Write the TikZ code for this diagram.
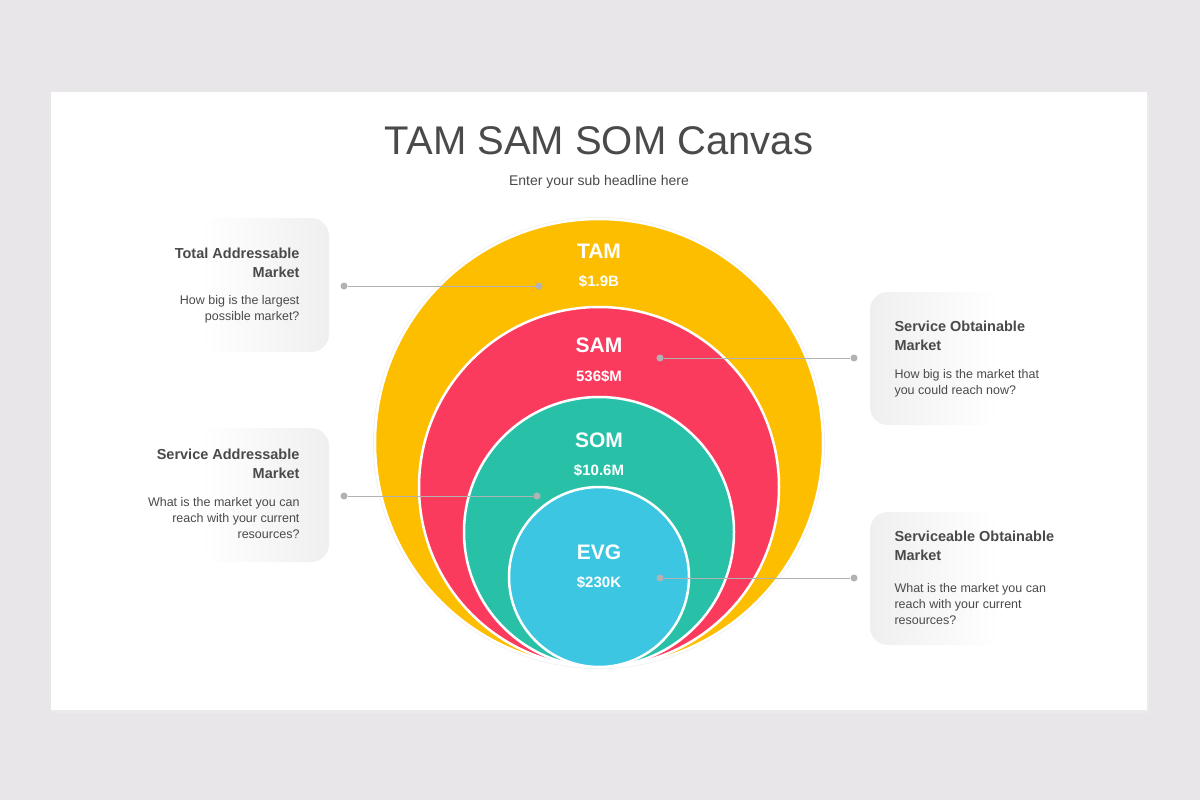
\documentclass[tikz,border=0pt]{standalone}
\usepackage{fontspec}
\setmainfont{Liberation Sans}
\definecolor{bg}{HTML}{E8E6E8}
\definecolor{tamc}{HTML}{FDBE00}
\definecolor{samc}{HTML}{FB3B5E}
\definecolor{somc}{HTML}{28C1A8}
\definecolor{evgc}{HTML}{3CC6E2}
\definecolor{txt}{HTML}{4A4A4A}
\definecolor{boxg}{HTML}{EFEFEF}
\tikzset{
 ring/.style={draw=white,line width=2.5pt},
 lab/.style={text=white,font=\bfseries\fontsize{21}{24}\selectfont},
 val/.style={text=white,font=\bfseries\fontsize{15}{18}\selectfont},
 conn/.style={draw=black!30,line width=1pt},
 dot/.style={circle,fill=black!30,inner sep=0pt,minimum size=7pt},
 headl/.style={text=txt,font=\bfseries\fontsize{14.5}{19}\selectfont,align=right,anchor=north east},
 bodyl/.style={text=txt,font=\fontsize{12.5}{16}\selectfont,align=right,anchor=north east},
 headr/.style={text=txt,font=\bfseries\fontsize{14.5}{19}\selectfont,align=left,anchor=north west},
 bodyr/.style={text=txt,font=\fontsize{12.5}{16}\selectfont,align=left,anchor=north west},
}
\begin{document}
\begin{tikzpicture}[x=1pt,y=-1pt]
\fill[bg] (0,0) rectangle (1200,800);
\useasboundingbox (0,0) rectangle (1200,800);
\fill[black!8] (52,95) rectangle (1149,713);
\fill[white] (51,92) rectangle (1147,710);
\node[text=txt,font=\fontsize{40}{44}\selectfont] (title) at (599,141) {TAM SAM SOM Canvas};
\node[text=txt,font=\fontsize{14}{16}\selectfont] (sub) at (599,182) {Enter your sub headline here};
% boxes
\shade[left color=white,right color=boxg,rounded corners=18pt] (200,218) rectangle (329,352);
\shade[left color=white,right color=boxg,rounded corners=18pt] (200,428) rectangle (329,562);
\shade[right color=white,left color=boxg,rounded corners=18pt] (870,292) rectangle (1000,425);
\shade[right color=white,left color=boxg,rounded corners=18pt] (870,512) rectangle (1000,645);
% circles
\fill[black!6] (599,443) circle (226);
\filldraw[fill=tamc,ring] (599,443) circle (224);
\filldraw[fill=samc,ring] (599,487) circle (180);
\filldraw[fill=somc,ring] (599,532) circle (135);
\filldraw[fill=evgc,ring] (599,577) circle (90);
\node[lab] (tam) at (599,251) {TAM};
\node[val] (tamv) at (599,281) {\$1.9B};
\node[lab] (sam) at (599,345) {SAM};
\node[val] (samv) at (599,376) {536\$M};
\node[lab] (som) at (599,440) {SOM};
\node[val] (somv) at (599,470) {\$10.6M};
\node[lab] (evg) at (599,552) {EVG};
\node[val] (evgv) at (599,582) {\$230K};
% texts
\node[headl] (h1) at (303,244) {Total Addressable\\Market};
\node[bodyl] (b1) at (303,292) {How big is the largest\\possible market?};
\node[headl] (h2) at (303,445) {Service Addressable\\Market};
\node[bodyl] (b2) at (303,494) {What is the market you can\\reach with your current\\resources?};
\node[headr] (h3) at (891,317) {Service Obtainable\\Market};
\node[bodyr] (b3) at (891,366) {How big is the market that\\you could reach now?};
\node[headr] (h4) at (891,527) {Serviceable Obtainable\\Market};
\node[bodyr] (b4) at (891,580) {What is the market you can\\reach with your current\\resources?};
% connectors
\node[dot] (a1) at (344,286) {}; \node[dot] (a2) at (539,286) {};
\node[dot] (c1) at (660,358) {}; \node[dot] (c2) at (854,358) {};
\node[dot] (d1) at (344,496) {}; \node[dot] (d2) at (537,496) {};
\node[dot] (e1) at (660,578) {}; \node[dot] (e2) at (854,578) {};
\draw[conn] (a1) -- (a2);
\draw[conn] (c1) -- (c2);
\draw[conn] (d1) -- (d2);
\draw[conn] (e1) -- (e2);
\end{tikzpicture}
\end{document}
